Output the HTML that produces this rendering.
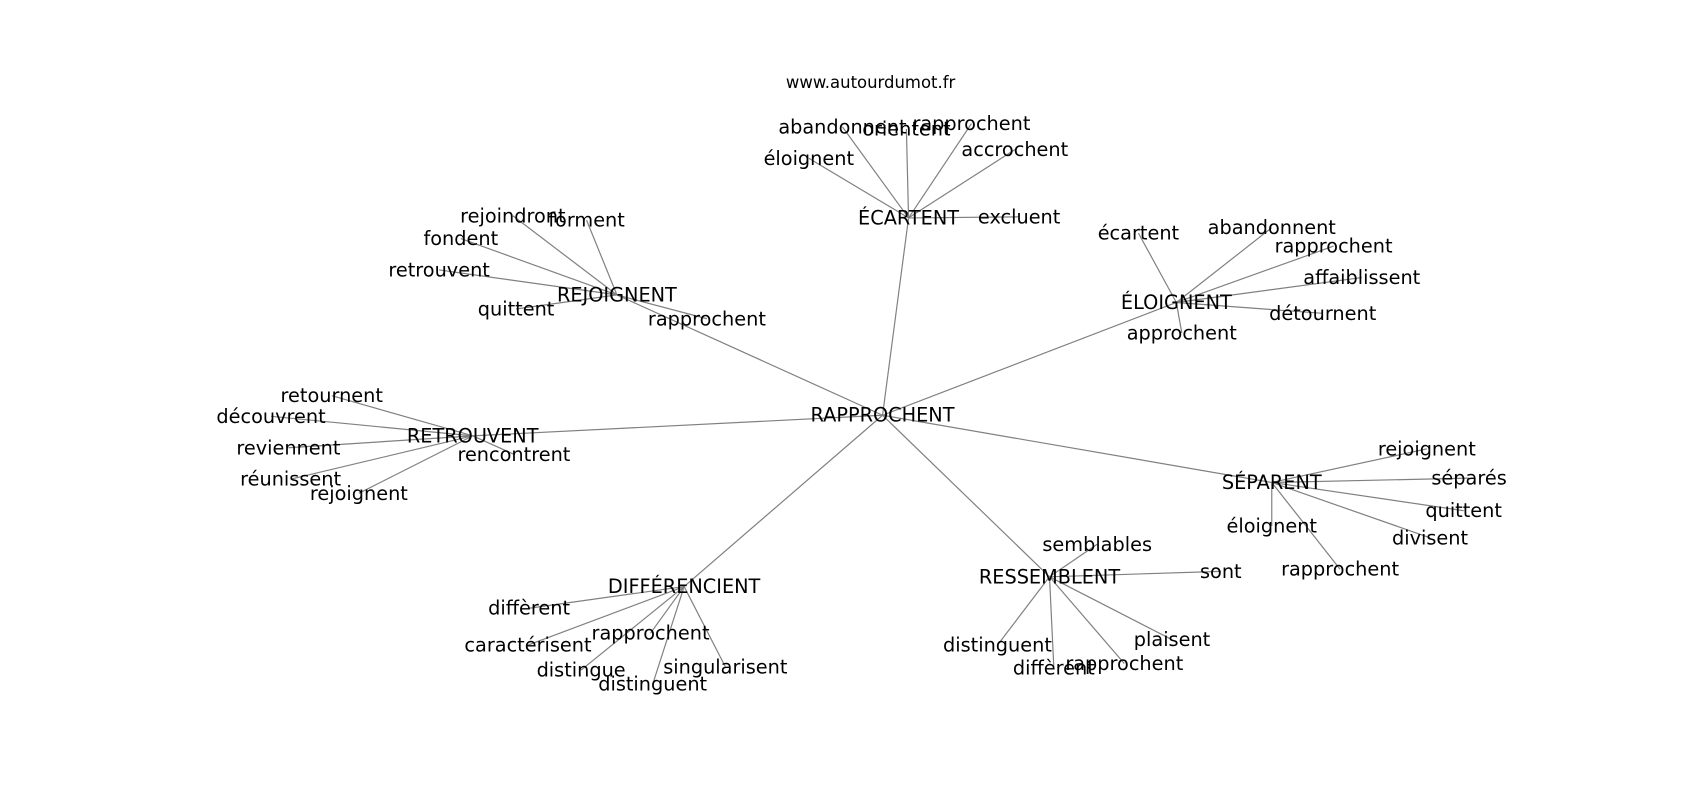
<!DOCTYPE html>
<html><head><meta charset="utf-8"><style>
body{margin:0;background:#fff}
svg text{font-family:"DejaVu Sans","Liberation Sans",sans-serif;font-size:17.8px;fill:#000;text-anchor:middle;dominant-baseline:central}
line{stroke:#808080;stroke-width:1.1}
</style></head><body>
<svg width="1700" height="800" viewBox="0 0 1700 800" xmlns="http://www.w3.org/2000/svg">
<g transform="scale(1.0842)">
<g id="edges"></g>
<g id="labels"></g>
<text x="803" y="76" style="font-size:15.2px">www.autourdumot.fr</text>
</g>
</svg>
<script>
var C={n:"RAPPROCHENT",x:814,y:383};
var groups=[
{n:"ÉCARTENT",x:838,y:201,c:[["abandonnent",777,117],["orientent",836,119],["rapprochent",896,114],["accrochent",936,138],["éloignent",746,146],["excluent",940,200]]},
{n:"REJOIGNENT",x:569,y:272,c:[["rejoindront",473,199],["forment",541,203],["fondent",425,220],["retrouvent",405,249],["quittent",476,285],["rapprochent",652,294]]},
{n:"ÉLOIGNENT",x:1085,y:279,c:[["écartent",1050,215],["abandonnent",1173,210],["rapprochent",1230,227],["affaiblissent",1256,256],["détournent",1220,289],["approchent",1090,307]]},
{n:"RETROUVENT",x:436,y:402,c:[["retournent",306,365],["découvrent",250,384],["reviennent",266,413],["réunissent",268,442],["rejoignent",331,455],["rencontrent",474,419]]},
{n:"SÉPARENT",x:1173,y:445,c:[["rejoignent",1316,414],["séparés",1355,441],["quittent",1350,471],["divisent",1319,496],["éloignent",1173,485],["rapprochent",1236,525]]},
{n:"DIFFÉRENCIENT",x:631,y:541,c:[["diffèrent",488,561],["caractérisent",487,595],["rapprochent",600,584],["distingue",536,618],["distinguent",602,631],["singularisent",669,615]]},
{n:"RESSEMBLENT",x:968,y:532,c:[["semblables",1012,502],["sont",1126,527],["distinguent",920,595],["diffèrent",972,616],["rapprochent",1037,612],["plaisent",1081,590]]}
];
var NS="http://www.w3.org/2000/svg",E=document.getElementById("edges"),L=document.getElementById("labels");
function ln(a,b,c,d){var l=document.createElementNS(NS,"line");l.setAttribute("x1",a);l.setAttribute("y1",b);l.setAttribute("x2",c);l.setAttribute("y2",d);E.appendChild(l);}
function tx(s,x,y){var t=document.createElementNS(NS,"text");t.setAttribute("x",x);t.setAttribute("y",y);t.textContent=s;L.appendChild(t);}
groups.forEach(function(g){ln(C.x,C.y,g.x,g.y);g.c.forEach(function(c){ln(g.x,g.y,c[1],c[2]);tx(c[0],c[1],c[2]);});tx(g.n,g.x,g.y);});
tx(C.n,C.x,C.y);
</script>
</body></html>
